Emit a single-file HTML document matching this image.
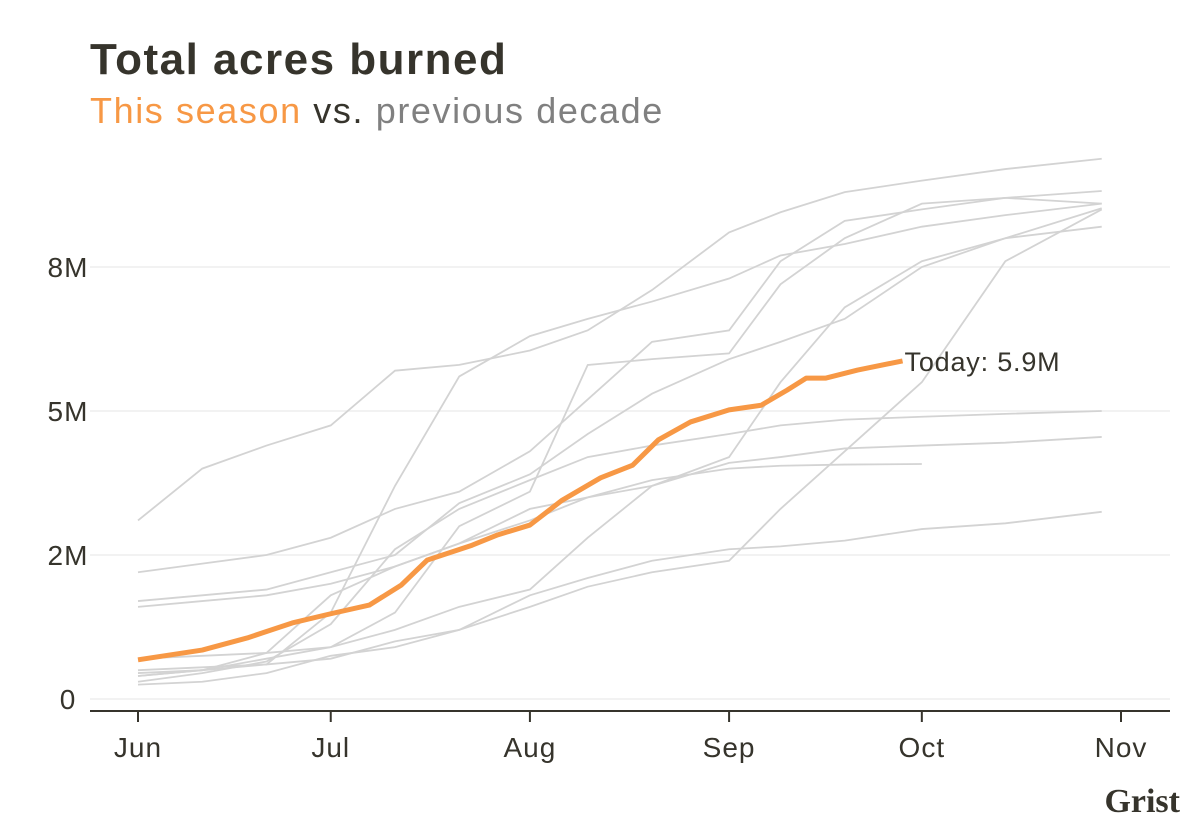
<!DOCTYPE html>
<html><head><meta charset="utf-8"><style>
body{margin:0;background:#fff;font-family:"Liberation Sans",sans-serif}
svg{display:block}
</style></head><body>
<svg id="chart" width="1200" height="833">
<text x="90" y="74" font-size="44" font-weight="bold" letter-spacing="1.5" fill="#36342c">Total acres burned</text>
<text x="90" y="123" font-size="36" letter-spacing="1.6"><tspan fill="#f79845">This season</tspan><tspan fill="#36342c"> vs. </tspan><tspan fill="#808080">previous decade</tspan></text>
<g id="grid"></g><g id="grey"></g><g id="orange"></g><g id="axes"></g>
<text x="1180" y="812" text-anchor="end" font-family="Liberation Serif,serif" font-weight="bold" font-size="34" fill="#36342c">Grist</text>
</svg>
<script>
const yTicks=[0,2.5,5,7.5];
const yTickLabels=["0","2M","5M","8M"];
const xTickDays=[0,30,61,92,122,153];
const xTickLabels=["Jun","Jul","Aug","Sep","Oct","Nov"];
const greyDays=[0,10,20,30,40,50,61,70,80,92,100,110,122,135,150];
const greyA=[3.1,4.0,4.4,4.75,5.7,5.8,6.05,6.4,7.1,8.1,8.45,8.8,9.0,9.2,9.38];
const greyB=[2.2,2.35,2.5,2.8,3.3,3.6,4.3,5.2,6.2,6.4,7.6,8.3,8.5,8.7,8.82];
const greyC=[1.7,1.8,1.9,2.2,2.5,3.4,3.9,4.6,5.3,5.9,6.2,6.6,7.5,8.0,8.52];
const greyD=[1.6,1.7,1.8,2.0,2.3,2.7,3.3,3.5,3.7,4.2,5.5,6.8,7.6,8.0,8.2];
const greyE=[0.4,0.5,0.6,1.5,3.7,5.6,6.3,6.6,6.9,7.3,7.7,7.9,8.2,8.4,8.6];
const greyF=[0.3,0.45,0.65,1.3,2.6,3.3,3.8,4.2,4.4,4.6,4.75,4.85,4.9,4.95,5.0];
const greyG=[0.7,0.75,0.8,0.9,1.2,1.6,1.9,2.8,3.7,4.1,4.2,4.35,4.4,4.45,4.55];
const greyH=[0.45,0.5,0.8,1.8,2.3,2.7,3.1,3.5,3.8,4.0,4.05,4.07,4.08];
const greyI=[0.5,0.55,0.6,0.7,1.0,1.2,1.8,2.1,2.4,2.6,2.65,2.75,2.95,3.05,3.25];
const greyJ=[0.4,0.5,0.7,0.9,1.5,3.0,3.6,5.8,5.9,6.0,7.2,8.0,8.6,8.7,8.6];
const greyK=[0.25,0.3,0.45,0.75,0.9,1.2,1.6,1.95,2.2,2.4,3.3,4.3,5.5,7.6,8.5];
const greySeries=[greyA,greyB,greyC,greyD,greyE,greyF,greyG,greyH,greyI,greyJ,greyK];
const orangeDays=[0,10,17,24,30,36,41,45,52,56,61,66,72,77,81,86,92,97,101,104,107,112,119];
const orangeValues=[0.68,0.85,1.06,1.32,1.48,1.63,1.98,2.41,2.67,2.85,3.02,3.45,3.84,4.06,4.5,4.81,5.02,5.1,5.36,5.57,5.57,5.71,5.87];
const todayLabel="Today: 5.9M";

const NS="http://www.w3.org/2000/svg";
const X=d=>138+d*(983/153);
const Y=v=>699-v*57.6;
function mk(tag,attrs,parent){const e=document.createElementNS(NS,tag);for(const k in attrs)e.setAttribute(k,attrs[k]);document.getElementById(parent).appendChild(e);return e;}
yTicks.forEach((t,i)=>{
  const g=mk('line',{x1:90,x2:1170,y1:Y(t),y2:Y(t),stroke:'#eeeeee','stroke-width':1.5},'grid');
  
  
  const l=mk('text',{x:68,y:Y(t)+10,'text-anchor':'middle','font-size':28,'letter-spacing':1,fill:'#36342c'},'axes');
  l.textContent=yTickLabels[i];
  
  
});
const ax=mk('line',{x1:90,x2:1170,y1:711,y2:711,stroke:'#36342c','stroke-width':2},'axes');


xTickDays.forEach((d,i)=>{
  const t=mk('line',{x1:X(d),x2:X(d),y1:711,y2:722,stroke:'#36342c','stroke-width':2},'axes');
  
  
  const l=mk('text',{x:X(d),y:757,'text-anchor':'middle','font-size':28,'letter-spacing':1,fill:'#36342c'},'axes');
  l.textContent=xTickLabels[i];
  
  
});
greySeries.forEach(s=>{
  const p=mk('polyline',{points:s.map((v,i)=>X(greyDays[i])+','+Y(v)).join(' '),fill:'none',stroke:'#d3d3d3','stroke-width':1.8},'grey');
  
  
});
const o=mk('polyline',{points:orangeValues.map((v,i)=>X(orangeDays[i])+','+Y(v)).join(' '),fill:'none',stroke:'#f79845','stroke-width':5,'stroke-linejoin':'round'},'orange');


const last=orangeValues.length-1;
const tl=mk('text',{x:X(orangeDays[last])+2,y:Y(orangeValues[last])+10,'font-size':27,'letter-spacing':0.8,fill:'#36342c'},'orange');
tl.textContent=todayLabel;


</script>
</body></html>
